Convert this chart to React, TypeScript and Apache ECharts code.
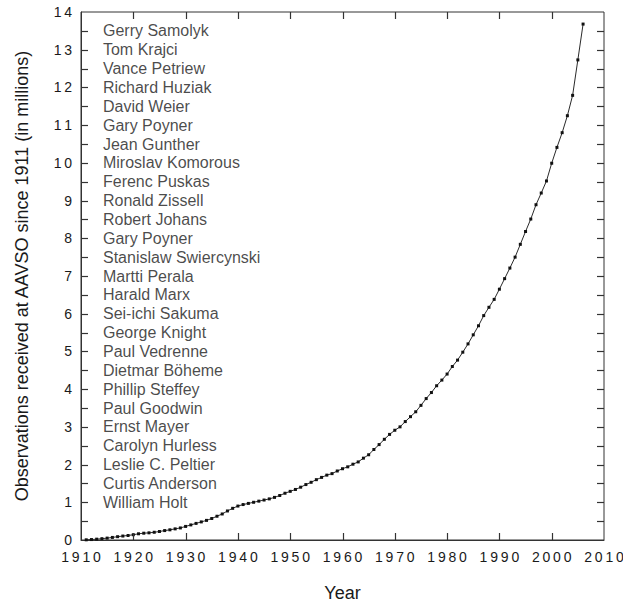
import React, { useEffect, useRef } from "react";
import * as echarts from "echarts";

const years: number[] = [
  1911, 1912, 1913, 1914, 1915, 1916, 1917, 1918, 1919, 1920,
  1921, 1922, 1923, 1924, 1925, 1926, 1927, 1928, 1929, 1930,
  1931, 1932, 1933, 1934, 1935, 1936, 1937, 1938, 1939, 1940,
  1941, 1942, 1943, 1944, 1945, 1946, 1947, 1948, 1949, 1950,
  1951, 1952, 1953, 1954, 1955, 1956, 1957, 1958, 1959, 1960,
  1961, 1962, 1963, 1964, 1965, 1966, 1967, 1968, 1969, 1970,
  1971, 1972, 1973, 1974, 1975, 1976, 1977, 1978, 1979, 1980,
  1981, 1982, 1983, 1984, 1985, 1986, 1987, 1988, 1989, 1990,
  1991, 1992, 1993, 1994, 1995, 1996, 1997, 1998, 1999, 2000,
  2001, 2002, 2003, 2004, 2005, 2006,
];

const observations: number[] = [
  0.005, 0.012, 0.022, 0.035, 0.05, 0.068, 0.088, 0.105, 0.12, 0.14,
  0.165, 0.18, 0.19, 0.205, 0.225, 0.25, 0.27, 0.295, 0.32, 0.36,
  0.4, 0.44, 0.48, 0.52, 0.57, 0.63, 0.69, 0.77, 0.84, 0.9,
  0.94, 0.97, 1.0, 1.03, 1.06, 1.09, 1.13, 1.18, 1.24, 1.29,
  1.34, 1.4, 1.47, 1.53, 1.6, 1.66, 1.72, 1.76, 1.83, 1.89,
  1.94, 2.01, 2.07, 2.17, 2.26, 2.4, 2.53, 2.67, 2.8, 2.91,
  3.0, 3.14, 3.27, 3.4, 3.57, 3.75, 3.91, 4.09, 4.24, 4.4,
  4.6, 4.77, 4.98, 5.2, 5.44, 5.68, 5.95, 6.17, 6.38, 6.65,
  6.93, 7.21, 7.5, 7.84, 8.18, 8.51, 8.89, 9.2, 9.52, 9.99,
  10.41, 10.8, 11.25, 11.79, 12.73, 13.68,
];

const observerNames: string[] = [
  "Gerry Samolyk",
  "Tom Krajci",
  "Vance Petriew",
  "Richard Huziak",
  "David Weier",
  "Gary Poyner",
  "Jean Gunther",
  "Miroslav Komorous",
  "Ferenc Puskas",
  "Ronald Zissell",
  "Robert Johans",
  "Gary Poyner",
  "Stanislaw Swiercynski",
  "Martti Perala",
  "Harald Marx",
  "Sei-ichi Sakuma",
  "George Knight",
  "Paul Vedrenne",
  "Dietmar Böheme",
  "Phillip Steffey",
  "Paul Goodwin",
  "Ernst Mayer",
  "Carolyn Hurless",
  "Leslie C. Peltier",
  "Curtis Anderson",
  "William Holt",
];

const xTickValues: number[] = [1920, 1930, 1940, 1950, 1960, 1970, 1980, 1990, 2000];
const yTickValues: number[] = [
  0.5, 1, 1.5, 2, 2.5, 3, 3.5, 4, 4.5, 5, 5.5, 6, 6.5, 7,
  7.5, 8, 8.5, 9, 9.5, 10, 10.5, 11, 11.5, 12, 12.5, 13, 13.5,
];

const xMin = 1910;
const xMax = 2010;
const xStep = 10;
const yMin = 0;
const yMax = 14;
const yStep = 0.5;

const nameTop = 13.5;
const nameStep = 0.5;
const nameYear = 1914.2;

export default function App() {
  const ref = useRef<HTMLDivElement>(null);

  useEffect(() => {
    if (!ref.current) return;
    const chart = echarts.init(ref.current, null, { renderer: "svg" });
    const font = "Liberation Sans, Arial, Helvetica, sans-serif";
    const axisColor = "#333333";
    const textColor = "#1a1a1a";
    const tickLen = 7;
    const spaced = (s: string) => s.split("").join("\u2009");

    const lineData = years.map((y, i) => [y, observations[i]]);
    const nameData = observerNames.map((n, i) => ({
      value: [nameYear, nameTop - i * nameStep],
      name: n,
    }));

    chart.setOption({
      animation: false,
      grid: {
        left: 81,
        right: 19,
        top: 12,
        bottom: 64,
        outerBoundsMode: "none",
        show: true,
        borderColor: axisColor,
        borderWidth: 1,
        backgroundColor: "transparent",
      },
      tooltip: { show: false },
      xAxis: {
        type: "value",
        min: xMin,
        max: xMax,
        interval: xStep,
        splitLine: { show: false },
        axisLine: { show: true, lineStyle: { color: axisColor, width: 1 } },
        axisTick: { show: false },
        name: "Year",
        nameLocation: "middle",
        nameGap: 44,
        nameTextStyle: { fontFamily: font, fontSize: 18, color: textColor },
        axisLabel: {
          fontFamily: font,
          fontSize: 14,
          color: textColor,
          margin: 10,
          formatter: (v: number) => spaced(String(v)),
        },
      },
      yAxis: {
        type: "value",
        min: yMin,
        max: yMax,
        interval: yStep,
        splitLine: { show: false },
        axisLine: { show: true, lineStyle: { color: axisColor, width: 1 } },
        axisTick: { show: false },
        name: "Observations received at AAVSO since 1911 (in millions)",
        nameLocation: "middle",
        nameGap: 50,
        nameRotate: 90,
        nameTextStyle: { fontFamily: font, fontSize: 18, color: textColor },
        axisLabel: {
          fontFamily: font,
          fontSize: 14,
          color: textColor,
          margin: 9,
          formatter: (v: number) =>
            Math.abs(v - Math.round(v)) < 1e-6 ? spaced(String(Math.round(v))) : "",
        },
      },
      series: [
        {
          type: "line",
          data: lineData,
          symbol: "rect",
          symbolSize: 3,
          showSymbol: true,
          lineStyle: { color: "#2a2a2a", width: 1 },
          itemStyle: { color: "#111111" },
        },
        {
          type: "scatter",
          data: nameData,
          symbolSize: 0,
          label: {
            show: true,
            position: "right",
            distance: 0,
            formatter: (p: any) => p.name,
            fontFamily: font,
            fontSize: 16,
            color: textColor,
          },
        },
      ],
    });

    // Tick marks on all four sides, placed through the chart's own scales.
    const toPx = (x: number, y: number) =>
      chart.convertToPixel({ gridIndex: 0 }, [x, y]) as number[];
    const tickStyle = { stroke: axisColor, lineWidth: 1.2 };
    const tickElements: any[] = [];
    xTickValues.forEach((v) => {
      const b = toPx(v, yMin);
      const t = toPx(v, yMax);
      const x = Math.round(b[0]) + 0.5;
      tickElements.push({
        type: "line",
        shape: { x1: x, y1: b[1], x2: x, y2: b[1] - tickLen },
        style: tickStyle,
        z: 10,
      });
      tickElements.push({
        type: "line",
        shape: { x1: x, y1: t[1], x2: x, y2: t[1] + tickLen },
        style: tickStyle,
        z: 10,
      });
    });
    yTickValues.forEach((v) => {
      const l = toPx(xMin, v);
      const r = toPx(xMax, v);
      const y = Math.round(l[1]) + 0.5;
      tickElements.push({
        type: "line",
        shape: { x1: l[0], y1: y, x2: l[0] + tickLen, y2: y },
        style: tickStyle,
        z: 10,
      });
      tickElements.push({
        type: "line",
        shape: { x1: r[0], y1: y, x2: r[0] - tickLen, y2: y },
        style: tickStyle,
        z: 10,
      });
    });
    chart.setOption({ graphic: tickElements });

    return () => chart.dispose();
  }, []);

  return (
    <div
      ref={ref}
      style={{ position: "absolute", left: 0, top: 0, width: 623, height: 604 }}
    />
  );
}
